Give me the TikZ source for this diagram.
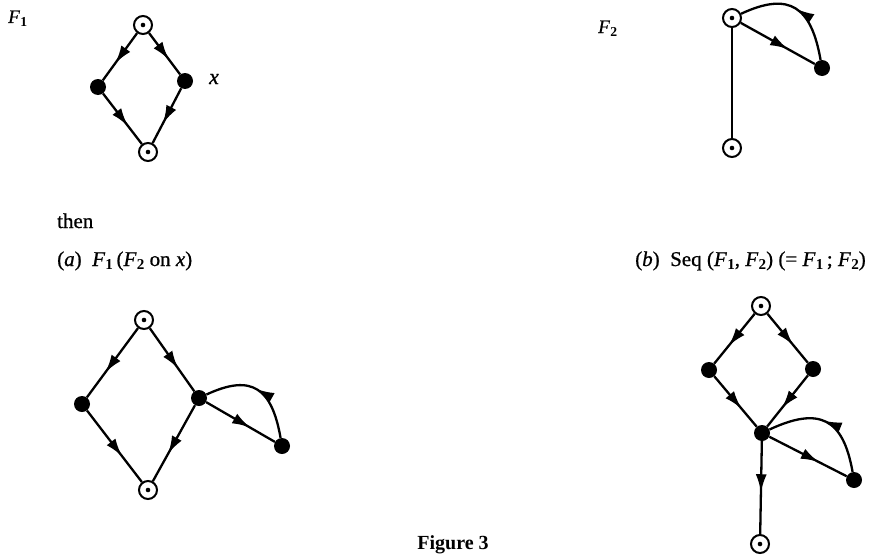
\documentclass[tikz,border=0pt]{standalone}
\usepackage{fontspec}
\setmainfont{Liberation Serif}[UprightFeatures={FakeBold=0.8},ItalicFeatures={FakeBold=0.8}]
\usetikzlibrary{arrows.meta,decorations.markings}
\newcommand{\Fsb}[1]{\textit{F}\kern0.3pt\raisebox{-0.35ex}{\scalebox{0.72}{\bfseries #1}}}
\tikzset{
  opennode/.style={circle,draw,line width=2pt,minimum size=18pt,inner sep=0pt,fill=white,
    path picture={\fill[black] (path picture bounding box.center) circle (2.3pt);}},
  fullnode/.style={circle,fill,minimum size=16pt,inner sep=0pt},
  edge/.style={line width=2.3pt},
  fwd/.style={line width=2.3pt,decoration={markings,mark=at position #1 with {\arrow{Latex[length=18pt,width=11pt]}}},postaction=decorate},
  fwd/.default=0.64,
  lbl/.style={font=\fontsize{19}{21}\selectfont,inner sep=0pt},
  txt/.style={font=\fontsize{21}{24}\selectfont,inner sep=0pt},
}
\begin{document}
\begin{tikzpicture}[x=1pt,y=1pt]
\useasboundingbox (0,0) rectangle (875,-554);
% F1
\node[lbl,anchor=base west] (lF1) at (8,-23) {\Fsb{1}};
\node[opennode] (a1) at (143,-25) {};
\node[fullnode] (a2) at (98,-87) {};
\node[fullnode] (a3) at (185,-81) {};
\node[opennode] (a4) at (148,-152) {};
\node[font=\fontsize{22}{24}\selectfont\itshape,inner sep=0pt] (lx) at (214,-79) {x};
\draw[fwd] (a1) -- (a2);
\draw[fwd] (a1) -- (a3);
\draw[fwd] (a2) -- (a4);
\draw[fwd] (a3) -- (a4);
% F2
\node[lbl,anchor=base west] (lF2) at (598,-33) {\Fsb{2}};
\node[opennode] (b1) at (732,-18) {};
\node[fullnode] (b2) at (822,-68) {};
\node[opennode] (b3) at (732,-148) {};
\draw[edge] (b1) -- (b3);
\draw[fwd] (b1) -- (b2);
\draw[fwd=0.5] (b2) to[out=100,in=25,looseness=1.5] (b1);
% texts
\node[txt,anchor=base west] (then) at (57,-228) {then};
\node[txt,anchor=base west] (la) at (57,-266) {(\textit{a})\ \ \Fsb{1}\,(\Fsb{2} on \textit{x})};
\node[txt,anchor=base east] (lb) at (866,-266) {(\textit{b})\ \ Seq (\Fsb{1}, \Fsb{2}) (= \Fsb{1}\,; \Fsb{2})};
\node[txt,anchor=base,font=\fontsize{20}{23}\selectfont\bfseries] (cap) at (453,-549) {Figure 3};
% graph a
\node[opennode] (c1) at (144,-320) {};
\node[fullnode] (c2) at (82,-404) {};
\node[fullnode] (c3) at (199,-398) {};
\node[opennode] (c4) at (148,-490) {};
\node[fullnode] (c5) at (282,-446) {};
\draw[fwd] (c1) -- (c2);
\draw[fwd] (c1) -- (c3);
\draw[fwd] (c2) -- (c4);
\draw[fwd] (c3) -- (c4);
\draw[fwd] (c3) -- (c5);
\draw[fwd=0.52] (c5) to[out=100,in=25,looseness=1.5] (c3);
% graph b
\node[opennode] (d1) at (761,-306) {};
\node[fullnode] (d2) at (709,-370) {};
\node[fullnode] (d3) at (813,-369) {};
\node[fullnode] (d4) at (762,-433) {};
\node[fullnode] (d5) at (854,-480) {};
\node[opennode] (d6) at (760,-544) {};
\draw[fwd] (d1) -- (d2);
\draw[fwd] (d1) -- (d3);
\draw[fwd] (d2) -- (d4);
\draw[fwd] (d3) -- (d4);
\draw[fwd] (d4) -- (d5);
\draw[fwd=0.55] (d4) -- (d6);
\draw[fwd=0.52] (d5) to[out=100,in=25,looseness=1.5] (d4);
\end{tikzpicture}
\end{document}
